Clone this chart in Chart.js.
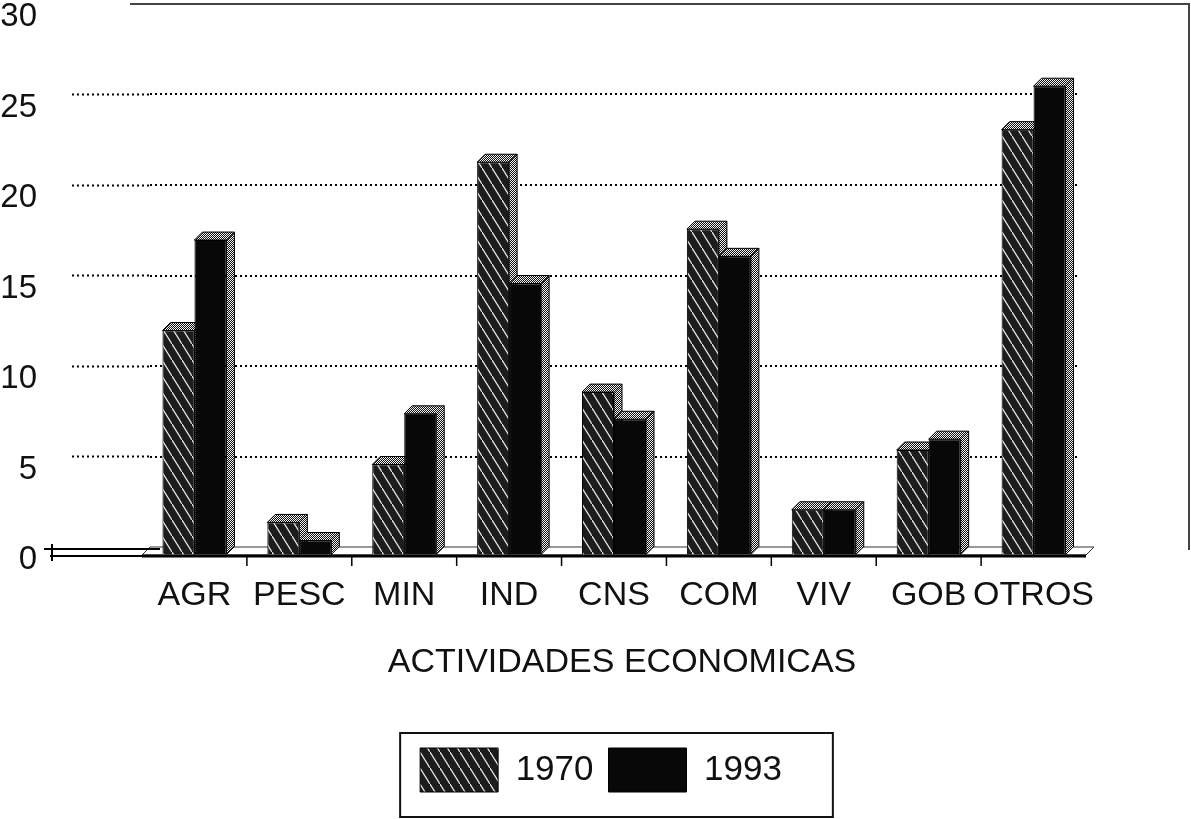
<!DOCTYPE html>
<html>
<head>
<meta charset="utf-8">
<script src="https://cdn.jsdelivr.net/npm/chart.js@4.4.1/dist/chart.umd.min.js"></script>
<style>
html, body { margin: 0; padding: 0; background: #fff; }
</style>
</head>
<body>
<canvas id="chart" width="1191" height="819"></canvas>
<script>
// data (percent share by activity)
const categories = ['AGR', 'PESC', 'MIN', 'IND', 'CNS', 'COM', 'VIV', 'GOB', 'OTROS'];
const values1970 = [12.4, 1.8, 5.0, 21.7, 9.0, 18.0, 2.5, 5.8, 23.5];
const values1993 = [17.4, 0.8, 7.8, 15.0, 7.5, 16.5, 2.5, 6.4, 25.9];
const seriesLabels = ['1970', '1993'];
const yMax = 30;
const yStep = 5;

const DEPTH = 8; // 3d offset of the bars
const FONT = '"Liberation Sans", Arial, sans-serif';
Chart.defaults.font.family = FONT;

// diagonal white hatch on dark ground
function makeHatch() {
    const c = document.createElement('canvas');
    c.width = 10; c.height = 16;
    const g = c.getContext('2d');
    g.fillStyle = '#1c1c1c';
    g.fillRect(0, 0, 10, 16);
    g.strokeStyle = '#e0e0e0';
    g.lineWidth = 1.3;
    [[-10, -16], [0, 0], [10, 16]].forEach(([ox, oy]) => {
        g.beginPath();
        g.moveTo(ox, oy);
        g.lineTo(ox + 10, oy + 16);
        g.stroke();
    });
    return g.createPattern(c, 'repeat');
}

// checkered dots used on the sides and caps
function makeDots() {
    const c = document.createElement('canvas');
    c.width = 2; c.height = 2;
    const g = c.getContext('2d');
    g.fillStyle = '#111';
    g.fillRect(0, 0, 2, 2);
    g.fillStyle = '#f4f4f4';
    g.fillRect(0, 0, 1, 1);
    g.fillRect(1, 1, 1, 1);
    return g.createPattern(c, 'repeat');
}

const ctx = document.getElementById('chart').getContext('2d');
const hatch = makeHatch();
const dots = makeDots();

const threeD = {
    id: 'threeD',
    afterLayout(chart) {
        // the legend box sits a little right of centre in the original
        const lg = chart.legend;
        if (lg) {
            lg.left += 54;
            lg.right += 54;
            if (lg.adjustHitBoxes) lg.adjustHitBoxes();
        }
    },
    beforeDatasetsDraw(chart) {
        const { ctx, chartArea: a, scales: { x, y } } = chart;

        // dotted gridlines on the back wall
        ctx.save();
        ctx.strokeStyle = '#000';
        ctx.lineWidth = 2;
        ctx.setLineDash([2, 3]);
        y.ticks.forEach(t => {
            if (t.value <= 0 || t.value >= yMax) return;
            const py = Math.round(y.getPixelForValue(t.value));
            ctx.beginPath();
            ctx.moveTo(a.left, py);
            ctx.lineTo(a.right - 16, py);
            ctx.stroke();
        });
        ctx.restore();

        // top and right frame lines
        ctx.save();
        ctx.strokeStyle = '#444';
        ctx.lineWidth = 2;
        ctx.beginPath();
        ctx.moveTo(a.left - 20, a.top);
        ctx.lineTo(chart.width - 2, a.top);
        ctx.lineTo(chart.width - 2, a.bottom + 3);
        ctx.stroke();
        ctx.restore();

        // everything in the bar layer sits on the front plane
        ctx.save();
        ctx.translate(-DEPTH, DEPTH);

        // floor
        ctx.save();
        ctx.fillStyle = '#fff';
        ctx.strokeStyle = '#333';
        ctx.lineWidth = 1;
        ctx.beginPath();
        ctx.moveTo(a.left, a.bottom);
        ctx.lineTo(a.left + DEPTH, a.bottom - DEPTH);
        ctx.lineTo(a.right + DEPTH, a.bottom - DEPTH);
        ctx.lineTo(a.right, a.bottom);
        ctx.closePath();
        ctx.fill();
        ctx.stroke();
        ctx.strokeStyle = '#000';
        ctx.lineWidth = 3;
        ctx.beginPath();
        ctx.moveTo(a.left, a.bottom + 1);
        ctx.lineTo(a.right, a.bottom + 1);
        ctx.stroke();
        ctx.lineWidth = 1.5;
        for (let i = 1; i < categories.length; i++) {
            const bx = (x.getPixelForValue(i - 1) + x.getPixelForValue(i)) / 2;
            ctx.beginPath();
            ctx.moveTo(bx, a.bottom);
            ctx.lineTo(bx, a.bottom + 11);
            ctx.stroke();
        }
        ctx.restore();

        // sides and caps of each bar
        chart.data.datasets.forEach((ds, di) => {
            chart.getDatasetMeta(di).data.forEach(bar => {
                const p = bar.getProps(['x', 'y', 'base', 'width'], true);
                const left = p.x - p.width / 2;
                const right = p.x + p.width / 2;
                ctx.save();
                ctx.fillStyle = dots;
                ctx.strokeStyle = '#000';
                ctx.lineWidth = 1;
                ctx.beginPath();
                ctx.moveTo(right, p.y);
                ctx.lineTo(right + DEPTH, p.y - DEPTH);
                ctx.lineTo(right + DEPTH, p.base - DEPTH);
                ctx.lineTo(right, p.base);
                ctx.closePath();
                ctx.fill();
                ctx.stroke();
                ctx.beginPath();
                ctx.moveTo(left, p.y);
                ctx.lineTo(left + DEPTH, p.y - DEPTH);
                ctx.lineTo(right + DEPTH, p.y - DEPTH);
                ctx.lineTo(right, p.y);
                ctx.closePath();
                ctx.fill();
                ctx.stroke();
                ctx.restore();
            });
        });
    },
    afterDatasetsDraw(chart) {
        chart.ctx.restore();
    },
    afterDraw(chart) {
        const { ctx, chartArea: a, legend } = chart;

        // the broken zero line at the left
        ctx.save();
        ctx.strokeStyle = '#000';
        ctx.lineWidth = 2;
        ctx.beginPath();
        ctx.moveTo(44, a.bottom + 2);
        ctx.lineTo(a.left + 10, a.bottom + 2);
        ctx.moveTo(50, a.bottom + 9);
        ctx.lineTo(a.left + 10, a.bottom + 9);
        ctx.moveTo(52, a.bottom - 3);
        ctx.lineTo(52, a.bottom + 14);
        ctx.stroke();
        ctx.restore();

        // frame around the legend
        const hb = legend.legendHitBoxes;
        if (hb && hb.length) {
            const last = hb[hb.length - 1];
            const fx = hb[0].left - 20;
            ctx.save();
            ctx.strokeStyle = '#111';
            ctx.lineWidth = 2;
            ctx.strokeRect(fx, legend.top, last.left + last.width + 51 - fx, 84);
            ctx.restore();
        }
    }
};

const chart = new Chart(ctx, {
    type: 'bar',
    data: {
        labels: categories,
        datasets: [{
            label: seriesLabels[0],
            data: values1970,
            backgroundColor: hatch,
            borderColor: '#000',
            borderWidth: 1,
            clip: false
        }, {
            label: seriesLabels[1],
            data: values1993,
            backgroundColor: '#080808',
            borderColor: '#000',
            borderWidth: 1,
            clip: false
        }]
    },
    options: {
        responsive: false,
        animation: false,
        layout: { padding: { top: 4, right: 97, left: 0, bottom: 17 } },
        datasets: {
            bar: { barPercentage: 1.0, categoryPercentage: 0.61 }
        },
        plugins: {
            legend: {
                position: 'bottom',
                labels: {
                    boxWidth: 78,
                    boxHeight: 44,
                    padding: 15,
                    color: '#111',
                    font: { size: 35 }
                }
            },
            tooltip: { enabled: false }
        },
        scales: {
            x: {
                grid: { display: false },
                border: { display: false },
                ticks: {
                    color: '#111',
                    font: { size: 34 },
                    padding: 20,
                    labelOffset: -DEPTH,
                    maxRotation: 0,
                    autoSkip: false
                },
                title: {
                    display: true,
                    text: 'ACTIVIDADES ECONOMICAS',
                    color: '#111',
                    font: { size: 34 },
                    padding: { top: 0, bottom: 50 }
                },
                afterFit: (scale) => {
                    scale.height = 186;
                    scale.paddingLeft = 0;
                    scale.paddingRight = 0;
                }
            },
            y: {
                min: 0,
                max: yMax,
                border: { display: false },
                grid: {
                    drawOnChartArea: false,
                    drawTicks: true,
                    tickLength: 78,
                    tickWidth: 2,
                    tickBorderDash: [2, 3],
                    tickColor: (c) => (c.tick && (c.tick.value === 0 || c.tick.value === yMax)) ? 'rgba(0,0,0,0)' : '#000'
                },
                ticks: {
                    stepSize: yStep,
                    color: '#111',
                    font: { size: 33 },
                    padding: 35,
                    labelOffset: 13
                },
                afterFit: (scale) => {
                    scale.width = 150;
                    scale.paddingTop = 0;
                    scale.paddingBottom = 0;
                }
            }
        }
    },
    plugins: [threeD]
});
</script>
</body>
</html>
